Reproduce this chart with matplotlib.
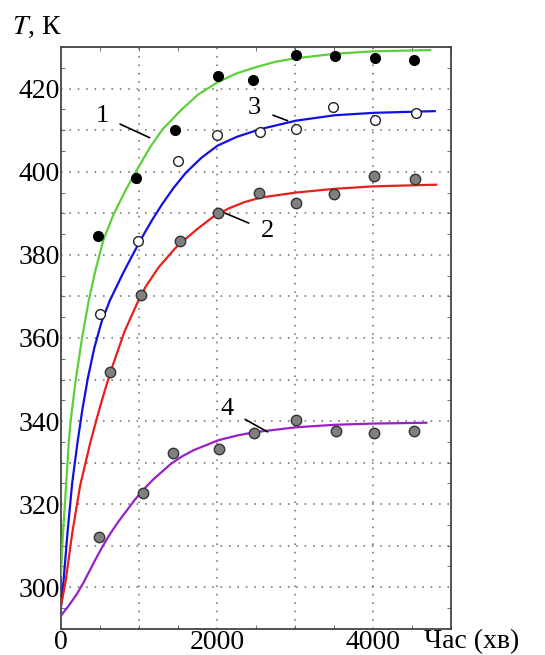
import numpy as np
import matplotlib
matplotlib.use('Agg')
import matplotlib.pyplot as plt
from matplotlib.ticker import MultipleLocator

plt.rcParams['font.family'] = ['Liberation Serif', 'DejaVu Serif']
plt.rcParams['mathtext.fontset'] = 'stix'

# ========== measured points ==========
t1 = [472, 955, 1460, 2006, 2465, 3010, 3515, 4022, 4523]
T1 = [384.6, 398.6, 410.0, 423.1, 422.2, 428.0, 427.9, 427.5, 427.0]

t3 = [495, 990, 1500, 2003, 2555, 3010, 3490, 4017, 4553]
T3 = [365.8, 383.3, 402.5, 408.8, 409.5, 410.2, 415.6, 412.5, 414.1]

t2 = [630, 1025, 1530, 2006, 2537, 3006, 3502, 4009, 4532]
T2 = [351.8, 370.4, 383.4, 390.1, 394.9, 392.5, 394.6, 399.0, 398.2]

t4 = [490, 1049, 1435, 2019, 2474, 3013, 3528, 4005, 4523]
T4 = [312.2, 322.7, 332.2, 333.2, 337.2, 340.3, 337.7, 337.1, 337.6]

# ========== model curves ==========
c1_x = [0, 20, 61, 102, 125, 187, 271, 354, 437, 542, 667, 812, 958, 1144,
        1300, 1535, 1750, 2000, 2250, 2500, 2750, 3000, 3500, 4000, 4730]
c1_y = [303, 311.4, 323.5, 335.7, 340.3, 349.8, 360.2, 368.9, 376.0, 383.5,
        389.5, 395.0, 400.0, 406.0, 410.2, 414.8, 418.5, 421.5, 423.7, 425.2,
        426.5, 427.3, 428.4, 429.0, 429.3]

c3_x = [0, 8, 33, 82, 143, 212, 271, 342, 425, 521, 625, 792, 917, 1062, 1167,
        1292, 1437, 1600, 1800, 2006, 2250, 2559, 3009, 3502, 4016, 4788]
c3_y = [295.5, 296.8, 301.7, 313.0, 325.1, 335.0, 342.5, 350.2, 357.5, 364.0,
        369.0, 375.5, 380.0, 385.0, 388.4, 392.1, 396.0, 399.8, 403.4, 406.3,
        408.4, 410.3, 412.3, 413.6, 414.2, 414.6]

c2_x = [0, 61, 143, 245, 375, 458, 542, 646, 812, 979, 1083, 1250, 1458, 1530,
        1750, 1959, 2150, 2350, 2559, 3009, 3502, 4008, 4809]
c2_y = [295.5, 301.7, 313.0, 324.5, 334.8, 340.6, 346.2, 352.5, 361.5, 368.5,
        372.3, 377.0, 381.5, 382.8, 386.3, 389.3, 391.2, 392.7, 393.8, 395.0,
        395.9, 396.5, 396.9]

c4_x = [0, 100, 204, 290, 367, 450, 531, 630, 735, 939, 1060, 1184, 1408, 1550,
        1700, 2017, 2250, 2473, 3009, 3502, 4008, 4681]
c4_y = [293.2, 295.6, 298.4, 301.2, 304.0, 307.0, 309.8, 312.9, 315.8, 320.9,
        323.6, 326.0, 329.7, 331.5, 333.0, 335.4, 336.5, 337.3, 338.5, 339.1,
        339.4, 339.6]

# ========== plot ==========
fig = plt.figure(figsize=(5.45, 6.55), dpi=100)
ax = fig.add_axes([0.112, 0.04, 0.716, 0.888])

ax.plot(c1_x, c1_y, color='#5ccf3a', lw=1.6, zorder=3)
ax.plot(c3_x, c3_y, color='#1010e0', lw=1.6, zorder=3)
ax.plot(c2_x, c2_y, color='#e8201c', lw=1.6, zorder=3)
ax.plot(c4_x, c4_y, color='#9a1fc8', lw=1.6, zorder=3)

ax.plot(t1, T1, 'o', ms=7, mfc='black', mec='black', zorder=4)
ax.plot(t3, T3, 'o', ms=7, mfc='white', mec='#222222', mew=1.0, zorder=4)
ax.plot(t2, T2, 'o', ms=7.5, mfc='#7f7f7f', mec='#333333', mew=1.0, zorder=4)
ax.plot(t4, T4, 'o', ms=7.5, mfc='#7f7f7f', mec='#333333', mew=1.0, zorder=4)

# labels with leader lines
ax.annotate('1', xy=(1136, 408.2), xytext=(523, 413.5), fontsize=19,
            ha='center', va='center',
            arrowprops=dict(arrowstyle='-', color='black', lw=1.2, shrinkA=7, shrinkB=0))
ax.annotate('3', xy=(2903, 412.3), xytext=(2480, 415.3), fontsize=19,
            ha='center', va='center',
            arrowprops=dict(arrowstyle='-', color='black', lw=1.2, shrinkA=7, shrinkB=0))
ax.annotate('2', xy=(2096, 390.1), xytext=(2640, 385.8), fontsize=19,
            ha='center', va='center',
            arrowprops=dict(arrowstyle='-', color='black', lw=1.2, shrinkA=7, shrinkB=0))
ax.annotate('4', xy=(2646, 337.4), xytext=(2131, 342.8), fontsize=19,
            ha='center', va='center',
            arrowprops=dict(arrowstyle='-', color='black', lw=1.2, shrinkA=7, shrinkB=0))

ax.set_xlim(0, 5000)
ax.set_ylim(290, 430)
ax.set_xticks([0, 2000, 4000])
ax.set_yticks([300, 320, 340, 360, 380, 400, 420])
ax.xaxis.set_minor_locator(MultipleLocator(500))
ax.yaxis.set_minor_locator(MultipleLocator(5))
ax.tick_params(which='both', direction='in', top=True, right=True, labelsize=20, pad=1)
ax.tick_params(which='major', length=0)
ax.tick_params(which='minor', length=3, width=0.6, color='#555555')

for y in range(300, 430, 10):
    ax.axhline(y, color='#666666', lw=1.1, ls=(0, (1, 4.5)), zorder=1)
for x in range(1000, 5000, 1000):
    ax.axvline(x, color='#666666', lw=1.1, ls=(0, (1, 4.5)), zorder=1)

for s in ax.spines.values():
    s.set_color('#444444')
    s.set_linewidth(1.3)

fig.text(0.022, 0.958, '$T$, К', fontsize=20, ha='left', va='center')
fig.text(0.778, 0.020, 'Час (хв)', fontsize=20, ha='left', va='center')

fig.savefig('out.png', dpi=100)
